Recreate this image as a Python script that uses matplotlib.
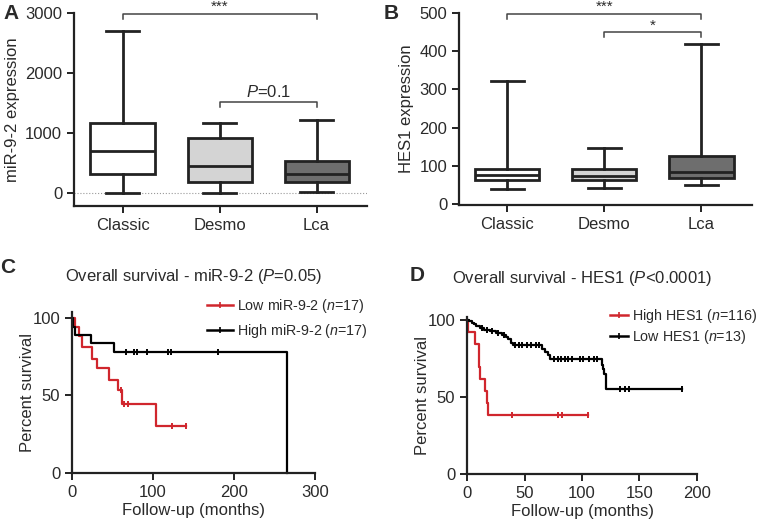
import matplotlib.pyplot as plt
from matplotlib.lines import Line2D
import numpy as np

plt.rcParams['font.family'] = ['Liberation Sans', 'DejaVu Sans']
plt.rcParams['mathtext.fontset'] = 'custom'
plt.rcParams['mathtext.it'] = 'Liberation Sans:italic'
plt.rcParams['mathtext.rm'] = 'Liberation Sans'
plt.rcParams['text.color'] = '#2a2a2a'
plt.rcParams['axes.labelcolor'] = '#2a2a2a'
plt.rcParams['xtick.color'] = '#2a2a2a'
plt.rcParams['ytick.color'] = '#2a2a2a'

# ---- data ----
groups = ['Classic', 'Desmo', 'Lca']
box_colors = ['white', '#d4d4d4', '#6e6e6e']

# panel A : miR-9-2 expression
mir_lo = [0, 0, 20]
mir_q1 = [310, 190, 180]
mir_med = [700, 450, 310]
mir_q3 = [1160, 920, 540]
mir_hi = [2700, 1160, 1210]

# panel B : HES1 expression
hes_lo = [40, 42, 50]
hes_q1 = [63, 62, 68]
hes_med = [75, 72, 84]
hes_q3 = [90, 90, 125]
hes_hi = [322, 147, 420]

# panel C : survival by miR-9-2
c_low_t = [0, 4, 8, 12, 25, 31, 45, 57, 62, 104]
c_low_s = [100, 94.1, 88.2, 81.2, 73.8, 67.5, 60.2, 53.7, 44.8, 30]
c_low_end = 141
c_low_cens = [60, 64, 69, 124, 141]
c_high_t = [0, 1, 4, 23, 52, 265]
c_high_s = [100, 94.1, 89.0, 83.6, 78.2, 0]
c_high_end = 265
c_high_cens = [66, 76, 80, 92, 119, 122, 180]

# panel D : survival by HES1
d_high_t = [0, 1, 7, 10, 10.5, 11, 15.5, 17, 18]
d_high_s = [100, 92.3, 84.6, 76.9, 69.2, 61.5, 53.8, 46.2, 38.5]
d_high_end = 105
d_high_cens = [39, 79, 83, 105]
d_low_t = [0, 2, 4, 6, 8, 11, 15, 20, 25, 30, 34, 36, 38, 40, 65, 68, 70, 72, 117, 118, 119, 121]
d_low_s = [100, 99.1, 98.2, 97.3, 96.2, 95.0, 93.8, 92.6, 91.4, 90.2, 89.0, 87.8, 85.4, 83.8,
           81.5, 79.4, 77.2, 75.0, 71.0, 68.0, 65.0, 55.0]
d_low_end = 187
d_low_cens = [13, 17, 22, 27, 32, 42, 45, 48, 52, 56, 60, 63, 76, 79, 82, 85, 88, 91, 98, 101,
              106, 110, 113, 133, 137, 141, 187]

dark = '#222222'
red = '#d0262d'


def style_axes(ax):
    for s in ['top', 'right']:
        ax.spines[s].set_visible(False)
    for s in ['left', 'bottom']:
        ax.spines[s].set_linewidth(1.6)
        ax.spines[s].set_color(dark)
    ax.tick_params(width=1.4, length=5, labelsize=12, color=dark)


def boxes(ax, lo, q1, med, q3, hi):
    stats = []
    for i in range(len(groups)):
        stats.append(dict(whislo=lo[i], q1=q1[i], med=med[i], q3=q3[i], whishi=hi[i], fliers=[]))
    bp = ax.bxp(stats, positions=range(len(groups)), widths=0.66, capwidths=0.34,
                patch_artist=True, showfliers=False,
                boxprops=dict(edgecolor=dark, linewidth=2.0),
                medianprops=dict(color=dark, linewidth=2.0),
                whiskerprops=dict(color=dark, linewidth=2.0),
                capprops=dict(color=dark, linewidth=2.0))
    for patch, c in zip(bp['boxes'], box_colors):
        patch.set_facecolor(c)
    ax.set_xlim(-0.5, 2.52)
    ax.set_xticks(range(len(groups)))
    ax.set_xticklabels(groups)


def bracket(ax, x1, x2, y, drop, label, ty, size=11):
    ax.plot([x1, x1, x2, x2], [y - drop, y, y, y - drop], color='#444444', lw=1.1, clip_on=False)
    ax.text((x1 + x2) / 2, ty, label, ha='center', va='center', fontsize=size, clip_on=False)


def km(ax, t, s, end, cens, color):
    tt = np.append(t, end)
    ss = np.append(s, s[-1])
    ax.step(tt, ss, where='post', color=color, lw=1.6, clip_on=False)
    idx = np.searchsorted(t, cens, side='right') - 1
    ax.plot(cens, np.array(s)[idx], ls='none', marker='|', ms=5, mew=1.4, color=color, clip_on=False)


def km_legend(ax, labels, anchor, hl, spacing):
    hs = [Line2D([], [], color=red, lw=1.8, marker='|', ms=4, mew=1.2),
          Line2D([], [], color='black', lw=1.8, marker='|', ms=4, mew=1.2)]
    ax.legend(hs, labels, loc='upper left', bbox_to_anchor=anchor, frameon=False, fontsize=10.3,
              handlelength=hl, handletextpad=0.3, labelspacing=spacing, borderaxespad=0, borderpad=0)


fig = plt.figure(figsize=(7.59, 5.22), dpi=100)

# ---- A ----
axA = fig.add_axes([0.0975, 0.6054, 0.386, 0.3697])
boxes(axA, mir_lo, mir_q1, mir_med, mir_q3, mir_hi)
axA.axhline(0, color='#999999', lw=0.8, ls=':', zorder=0)
axA.set_ylim(-217, 3000)
axA.set_yticks([0, 1000, 2000, 3000])
axA.set_ylabel('miR-9-2 expression', fontsize=12, labelpad=4)
style_axes(axA)
bracket(axA, 0, 2, 2980, 80, '***', 3100)
bracket(axA, 1, 2, 1517, 90, '$\\it{P}$=0.1', 1690, size=12)
fig.text(0.004, 0.975, 'A', fontsize=15, fontweight='bold', va='center')

# ---- B ----
axB = fig.add_axes([0.6047, 0.6073, 0.386, 0.3678])
boxes(axB, hes_lo, hes_q1, hes_med, hes_q3, hes_hi)
axB.set_ylim(-3, 500)
axB.set_yticks([0, 100, 200, 300, 400, 500])
axB.set_ylabel('HES1 expression', fontsize=12, labelpad=4)
style_axes(axB)
bracket(axB, 0, 2, 497, 14, '***', 515)
bracket(axB, 1, 2, 450, 14, '*', 466)
fig.text(0.505, 0.975, 'B', fontsize=15, fontweight='bold', va='center')

# ---- C ----
axC = fig.add_axes([0.095, 0.0939, 0.320, 0.309])
km(axC, c_low_t, c_low_s, c_low_end, c_low_cens, red)
km(axC, c_high_t, c_high_s, c_high_end, c_high_cens, 'black')
axC.set_xlim(0, 300)
axC.set_ylim(0, 104)
axC.set_xticks([0, 100, 200, 300])
axC.set_yticks([0, 50, 100])
axC.set_xlabel('Follow-up (months)', fontsize=12, labelpad=2)
axC.set_ylabel('Percent survival', fontsize=12, labelpad=-2)
style_axes(axC)
axC.set_title('Overall survival - miR-9-2 ($\\it{P}$=0.05)', fontsize=12, pad=22)
km_legend(axC, ['Low miR-9-2 ($\\it{n}$=17)', 'High miR-9-2 ($\\it{n}$=17)'], (0.556, 1.09), 1.8, 0.5)
fig.text(0.0, 0.487, 'C', fontsize=15, fontweight='bold', va='center')

# ---- D ----
axD = fig.add_axes([0.6153, 0.0920, 0.303, 0.3013])
km(axD, d_high_t, d_high_s, d_high_end, d_high_cens, red)
km(axD, d_low_t, d_low_s, d_low_end, d_low_cens, 'black')
axD.set_xlim(0, 200)
axD.set_ylim(0, 102.2)
axD.set_xticks([0, 50, 100, 150, 200])
axD.set_yticks([0, 50, 100])
axD.set_xlabel('Follow-up (months)', fontsize=12, labelpad=2)
axD.set_ylabel('Percent survival', fontsize=12, labelpad=-2)
style_axes(axD)
axD.set_title('Overall survival - HES1 ($\\it{P}$<0.0001)', fontsize=12, pad=24)
km_legend(axD, ['High HES1 ($\\it{n}$=116)', 'Low HES1 ($\\it{n}$=13)'], (0.622, 1.06), 1.25, 0.2)
fig.text(0.54, 0.473, 'D', fontsize=15, fontweight='bold', va='center')

fig.savefig('out.png', dpi=100)
